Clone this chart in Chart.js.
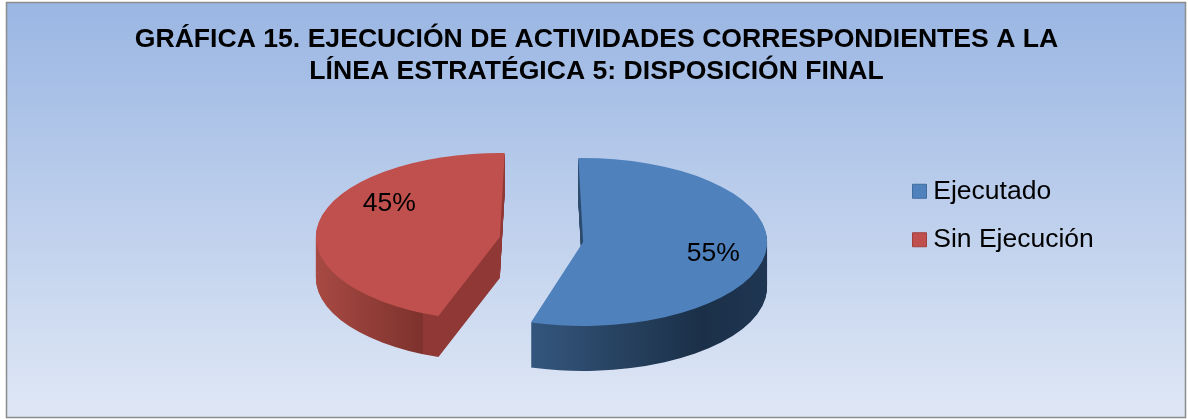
<!DOCTYPE html>
<html lang="es">
<head>
<meta charset="utf-8">
<style>html,body{margin:0;padding:0;background:#fff}#wrap{position:relative;width:1188px;height:419px}</style>
<script src="https://cdn.jsdelivr.net/npm/chart.js@4"></script>
</head>
<body>
<div id="wrap"><canvas id="c" width="1188" height="419"></canvas></div>
<script>
const titleLines = ['GRÁFICA 15. EJECUCIÓN DE ACTIVIDADES CORRESPONDIENTES A LA', 'LÍNEA ESTRATÉGICA 5: DISPOSICIÓN FINAL'];
const categories = ['Ejecutado', 'Sin Ejecución'];
const values = [55, 45];
const topColors = ['#4f81bd', '#c0504d'];
const legendBorders = ['#3f6d9f', '#a0403d'];
const wallStops = [
  [[0, '#3a5f8a'], [0.35, '#34577f'], [0.55, '#2a4666'], [0.82, '#1b3048'], [1, '#1f3652']],
  [[0, '#a94a44'], [0.62, '#7e322d'], [0.625, '#8f3836'], [1, '#8f3836']]
];
const labelAngleShift = [3.5, 26];
const arcDepth = [45, 41];
const arcTurn = [0, 3];

const F = 'Arial, "Liberation Sans", sans-serif';
const pie = {cx: 541.5, cy: 239.5, squash: 0.456, explode: 42, labelRadius: 0.72, rotation: -1.5};

const pie3d = {
  id: 'pie3d',
  beforeDraw(chart) {
    const {ctx} = chart;
    const g = ctx.createLinearGradient(0, 3, 0, 417);
    g.addColorStop(0, '#9ab6e3');
    g.addColorStop(1, '#dfe7f5');
    ctx.save();
    ctx.fillStyle = g;
    ctx.fillRect(7, 3, 1178, 414);
    ctx.strokeStyle = '#8c8c8c';
    ctx.lineWidth = 1.5;
    ctx.strokeRect(6.5, 2.5, 1179, 415);
    ctx.restore();
  },
  afterLayout(chart) {
    const t = chart.titleBlock;
    t.left = 0; t.right = 1193;
    const l = chart.legend;
    const w = l.width;
    l.left = 897; l.right = 897 + w;
    const h = l.height;
    l.top = 156; l.bottom = 156 + h;
  },
  beforeDatasetDraw(chart) {
    const {ctx} = chart;
    const arcs = chart.getDatasetMeta(0).data;
    const shift = (el) => {
      const mid = (el.startAngle + el.endAngle) / 2;
      return [Math.cos(mid) * pie.explode, Math.sin(mid) * pie.explode];
    };
    const place = (el, i, drop) => {
      const [dx, dy] = shift(el);
      ctx.translate(pie.cx, pie.cy);
      ctx.scale(1, pie.squash);
      ctx.translate(dx, dy + drop / pie.squash);
      ctx.rotate(arcTurn[i] * Math.PI / 180);
      ctx.translate(-el.x, -el.y);
    };
    // side walls
    arcs.forEach((el, i) => {
      const R = el.outerRadius;
      const left = el.x - R;
      const right = i === 0 ? el.x + R : el.x + 2;
      const saved = el.options;
      for (let d = arcDepth[i]; d >= 1; d--) {
        ctx.save();
        place(el, i, d);
        const g = ctx.createLinearGradient(left, 0, right, 0);
        wallStops[i].forEach(s => g.addColorStop(s[0], s[1]));
        el.options = {backgroundColor: g, borderColor: g, borderWidth: 0, borderAlign: 'center', offset: 0, spacing: 0, circular: true, borderRadius: 0};
        el.draw(ctx);
        ctx.restore();
      }
      el.options = saved;
    });
    // top faces
    arcs.forEach((el, i) => {
      ctx.save();
      place(el, i, 0);
      el.draw(ctx);
      ctx.restore();
    });
    // percentage labels
    const total = values.reduce((a, b) => a + b, 0);
    ctx.save();
    ctx.fillStyle = '#000';
    ctx.font = '26.5px ' + F;
    ctx.textAlign = 'center';
    ctx.textBaseline = 'middle';
    arcs.forEach((el, i) => {
      const [dx, dy] = shift(el);
      const a = (el.startAngle + el.endAngle) / 2 + labelAngleShift[i] * Math.PI / 180;
      const r = el.outerRadius * pie.labelRadius;
      const x = pie.cx + dx + Math.cos(a) * r;
      const y = pie.cy + (dy + Math.sin(a) * r) * pie.squash;
      ctx.fillText(Math.round(values[i] / total * 100) + '%', x, y);
    });
    ctx.restore();
    return false;
  }
};

new Chart(document.getElementById('c'), {
  type: 'pie',
  data: {
    labels: categories,
    datasets: [{
      data: values,
      backgroundColor: topColors,
      borderWidth: 0,
      hoverOffset: 0
    }]
  },
  plugins: [pie3d],
  options: {
    responsive: false,
    animation: false,
    rotation: pie.rotation,
    radius: 184,
    layout: {padding: {right: 90}},
    plugins: {
      tooltip: {enabled: false},
      title: {
        display: true,
        text: titleLines,
        color: '#000',
        font: {family: F, size: 26.6, weight: 'bold', lineHeight: 1.2},
        padding: {top: 24, bottom: 10}
      },
      legend: {
        display: true,
        position: 'right',
        align: 'start',
        labels: {
          color: '#000',
          font: {family: F, size: 26.5},
          usePointStyle: true,
          pointStyle: 'rect',
          boxWidth: 1,
          boxHeight: 14,
          padding: 22,
          generateLabels(chart) {
            return categories.map((name, i) => ({
              text: name,
              fillStyle: topColors[i],
              strokeStyle: legendBorders[i],
              lineWidth: 1,
              pointStyle: 'rect',
              index: i
            }));
          }
        }
      }
    }
  }
});
</script>
</body>
</html>
